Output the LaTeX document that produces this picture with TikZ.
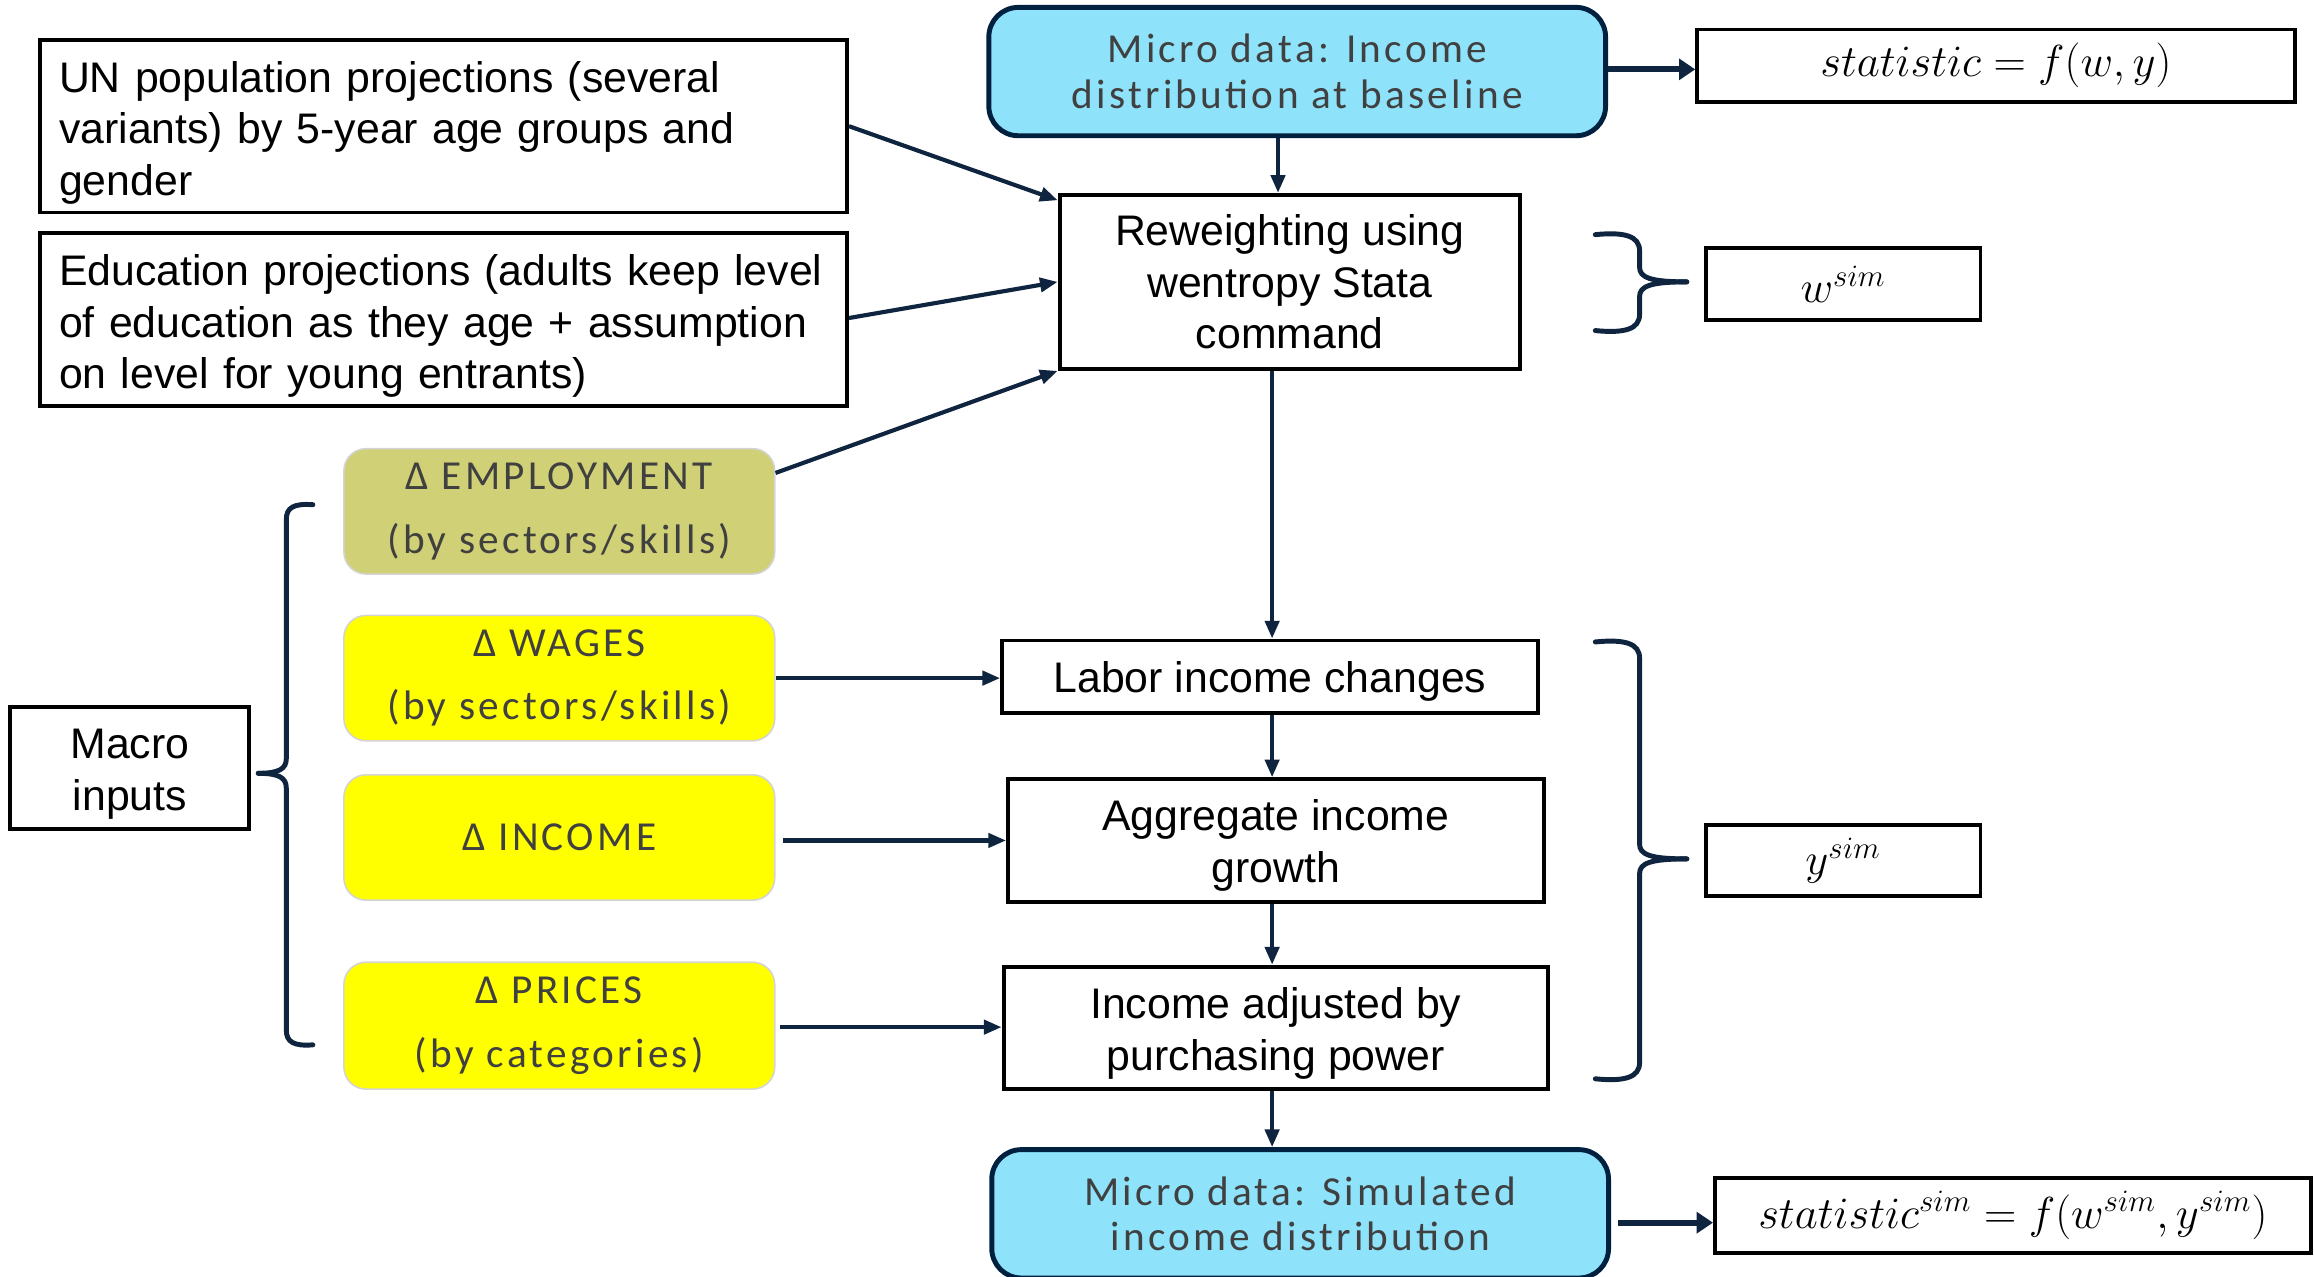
\documentclass[tikz,border=0pt]{standalone}
\usepackage{fontspec}
\setmainfont{Liberation Sans}
\newfontfamily\calib[LetterSpace=8]{Carlito}
\usetikzlibrary{arrows.meta,calc}
\definecolor{navy}{RGB}{15,36,62}
\definecolor{skyfill}{RGB}{142,226,250}
\definecolor{boxnavy}{RGB}{0,32,64}
\definecolor{txtgray}{RGB}{64,64,64}
\definecolor{khaki}{RGB}{208,208,118}
\definecolor{yelbord}{RGB}{212,212,212}
\definecolor{yel}{RGB}{255,255,0}
\newcommand\topfix{\rule{0pt}{\dimexpr 0.73em+0.14cm\relax}}
\newcommand\topfixb{\rule{0pt}{\dimexpr 0.73em+0.18cm\relax}}
\tikzset{
  plain/.style={draw=black, line width=1.5pt, fill=white, inner sep=0pt, align=center,
    font=\fontsize{16.5}{19.9}\selectfont},
  leftbox/.style={plain, align=left, inner xsep=0.26cm, text width=10.42cm,
    minimum width=10.94cm, minimum height=2.34cm},
  mathbox/.style={plain, font=\fontsize{16.8}{19.9}\selectfont},
  micro/.style={draw=boxnavy, line width=1.9pt, fill=skyfill, rounded corners=0.4cm,
    font=\calib\fontsize{15.9}{17.6}\selectfont, text=txtgray, align=center,
    minimum width=8.36cm, minimum height=1.74cm, inner sep=0pt},
  ybox/.style={fill=yel, draw=yelbord, line width=0.6pt, rounded corners=0.3cm,
    font=\calib\fontsize{15.9}{24.4}\selectfont, text=txtgray, align=center,
    minimum width=5.84cm, minimum height=1.7cm, inner sep=0pt},
  arr/.style={draw=navy, line width=1.6pt, -{Triangle[length=0.24cm,width=0.19cm]}},
  thickarr/.style={draw=navy, line width=2.4pt, -{Triangle[length=0.22cm,width=0.28cm]}},
  bracestyle/.style={draw=navy, line width=1.9pt, line cap=round}
}
\begin{document}
\begin{tikzpicture}[x=0.02cm, y=-0.02cm]
\useasboundingbox (0,0) rectangle (1568,865);
\clip (0,0) rectangle (1568,865);
\fill[white] (0,0) rectangle (1568,865);

% left input boxes
\node[leftbox] (un) at (300.5,85.5) {\topfixb UN population projections (several\\variants) by 5-year age groups and\\gender};
\node[leftbox] (edu) at (300.5,216.5) {\topfixb Education projections (adults keep level\\of education as they age + assumption\\on level for young entrants)};

% micro data top
\node[micro] (microtop) at (879,48.5) {Micro data: Income\\distribution at baseline};
\node[mathbox, minimum width=8.1cm, minimum height=0.98cm] (stat) at (1352.5,44.5) {$statistic=f(w,y)$};

% reweighting
\node[plain, minimum width=6.24cm, minimum height=2.36cm] (rew) at (874,191) {Reweighting using\\wentropy Stata\\command};
\node[mathbox, minimum width=3.72cm, minimum height=0.98cm] (wsim) at (1249,192.5) {$w^{sim}$};

% macro inputs
\node[ybox, fill=khaki] (emp) at (379,346.5) {Δ EMPLOYMENT\\(by sectors/skills)};
\node[ybox] (wages) at (379,459.5) {Δ WAGES\\(by sectors/skills)};
\node[ybox] (income) at (379,567.5) {Δ INCOME};
\node[ybox, minimum height=1.72cm] (prices) at (379,695) {Δ PRICES\\(by categories)};
\node[plain, minimum width=3.24cm, minimum height=1.66cm] (macro) at (88,520.5) {\topfix Macro\\inputs};

% income chain
\node[plain, minimum width=7.26cm, minimum height=0.98cm] (labor) at (860.5,458.5) {\topfix Labor income changes};
\node[plain, minimum width=7.26cm, minimum height=1.66cm] (agg) at (864.5,569.5) {\topfix Aggregate income\\growth};
\node[plain, minimum width=7.38cm, minimum height=1.66cm] (adj) at (864.5,696.5) {\topfix Income adjusted by\\purchasing power};
\node[mathbox, minimum width=3.72cm, minimum height=0.96cm] (ysim) at (1249,583) {$y^{sim}$};

% micro data bottom
\node[micro] (microbot) at (881,822.5) {Micro data: Simulated\\income distribution};
\node[mathbox, minimum width=8.08cm, minimum height=1.02cm] (statsim) at (1364,823.5) {$statistic^{sim}=f(w^{sim},y^{sim})$};

% connectors
\draw[arr] (un.east) -- ([yshift=-0.1cm]rew.north west);
\draw[arr] ([yshift=0.02cm]edu.east) -- (rew.west);
\draw[arr] ([yshift=-0.34cm]emp.north east) -- (rew.south west);
\draw[arr] ([xshift=-0.26cm]microtop.south) -- ([xshift=-0.26cm]microtop.south |- rew.north);
\draw[thickarr] ([yshift=0.03cm]microtop.east) -- ([yshift=0.03cm]microtop.east -| stat.west);
\draw[arr] ([xshift=-0.24cm]rew.south) -- ([xshift=-0.24cm]rew.south |- labor.north);
\draw[arr] (wages.east) -- (wages.east -| labor.west);
\draw[arr] ([xshift=0.1cm,yshift=-0.04cm]income.east) -- ([yshift=-0.04cm]income.east -| agg.west);
\draw[arr] ([xshift=0.06cm,yshift=-0.02cm]prices.east) -- ([yshift=-0.02cm]prices.east -| adj.west);
\draw[arr] ([xshift=0.03cm]labor.south) -- ([xshift=0.03cm]labor.south |- agg.north);
\draw[arr] ([xshift=-0.05cm]agg.south) -- ([xshift=-0.05cm]agg.south |- adj.north);
\draw[arr] ([xshift=-0.05cm]adj.south) -- ([xshift=-0.05cm]adj.south |- microbot.north);
\draw[thickarr] ([xshift=0.1cm,yshift=-0.12cm]microbot.east) -- ([yshift=-0.12cm]microbot.east -| statsim.west);

% braces
\draw[bracestyle] (1081,159) .. controls (1101,157) and (1111,160) .. (1111,170) -- (1111,181)
  .. controls (1111,188) and (1118,191) .. (1143,191);
\draw[bracestyle] (1081,224) .. controls (1101,226) and (1111,223) .. (1111,213) -- (1111,201)
  .. controls (1111,194) and (1118,191) .. (1143,191);

\draw[bracestyle] (1081,435) .. controls (1101,433) and (1111,436) .. (1111,446) -- (1111,572)
  .. controls (1111,579) and (1118,582) .. (1143,582);
\draw[bracestyle] (1081,731) .. controls (1101,733) and (1111,730) .. (1111,720) -- (1111,592)
  .. controls (1111,585) and (1118,582) .. (1143,582);

\draw[bracestyle] (212,342) .. controls (199,341) and (194,344) .. (194,352) -- (194,514)
  .. controls (194,521) and (189,524) .. (175,524);
\draw[bracestyle] (212,708) .. controls (199,709) and (194,706) .. (194,698) -- (194,534)
  .. controls (194,527) and (189,524) .. (175,524);
\end{tikzpicture}
\end{document}
